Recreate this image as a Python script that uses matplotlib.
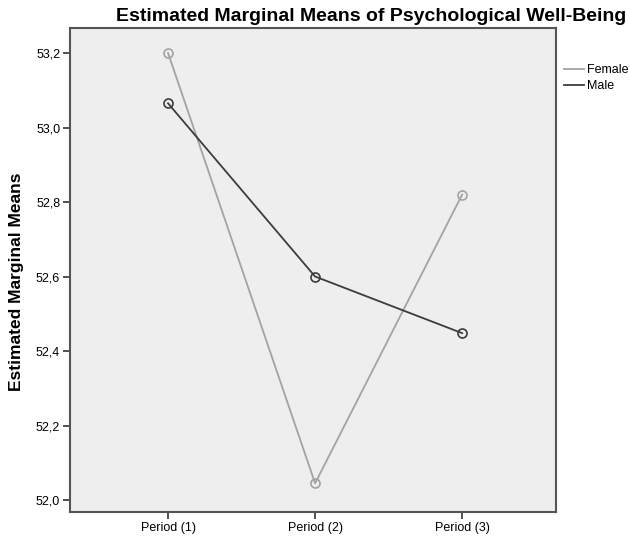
import numpy as np
import matplotlib
matplotlib.use("Agg")
import matplotlib.pyplot as plt

plt.rcParams['font.family'] = ['Liberation Sans', 'DejaVu Sans']

periods = ["Period (1)", "Period (2)", "Period (3)"]
female = [53.20, 52.045, 52.82]
male = [53.065, 52.60, 52.448]
yticks = [52.0, 52.2, 52.4, 52.6, 52.8, 53.0, 53.2]

fig = plt.figure(figsize=(6.3, 5.55), dpi=100)
ax = fig.add_axes([0.111, 0.0775, 0.772, 0.872])
ax.set_facecolor('#eeeeee')

x = np.arange(1, len(periods) + 1)
ax.plot(x, female, '-o', color='#a3a3a3', lw=1.3, ms=6.5, mfc='none', mew=1.2, label='Female')
ax.plot(x, male, '-o', color='#3c3c3c', lw=1.3, ms=6.5, mfc='none', mew=1.2, label='Male')

ax.set_xlim(0.333, 3.64)
ax.set_ylim(51.968, 53.267)
ax.set_xticks(x)
ax.set_xticklabels(periods, fontsize=9)
ax.set_yticks(yticks)
ax.set_yticklabels([f"{v:.1f}".replace('.', ',') for v in yticks], fontsize=9)
ax.tick_params(direction='out', length=5, width=1.2, color='#333333', pad=2)
for s in ax.spines.values():
    s.set_linewidth(1.5)
    s.set_color('#555555')

ax.set_ylabel("Estimated Marginal Means", fontsize=12.5, fontweight='bold')
ax.yaxis.set_label_coords(-0.095, 0.475)
fig.text(0.589, 0.97, "Estimated Marginal Means of Psychological Well-Being",
         ha='center', va='center', fontsize=14, fontweight='bold')

ax.legend(loc='upper left', bbox_to_anchor=(1.005, 0.935), frameon=False,
          fontsize=9, handlelength=1.6, handletextpad=0.3, borderaxespad=0,
          labelspacing=0.3, markerscale=0)

fig.savefig("out.png", dpi=100)
